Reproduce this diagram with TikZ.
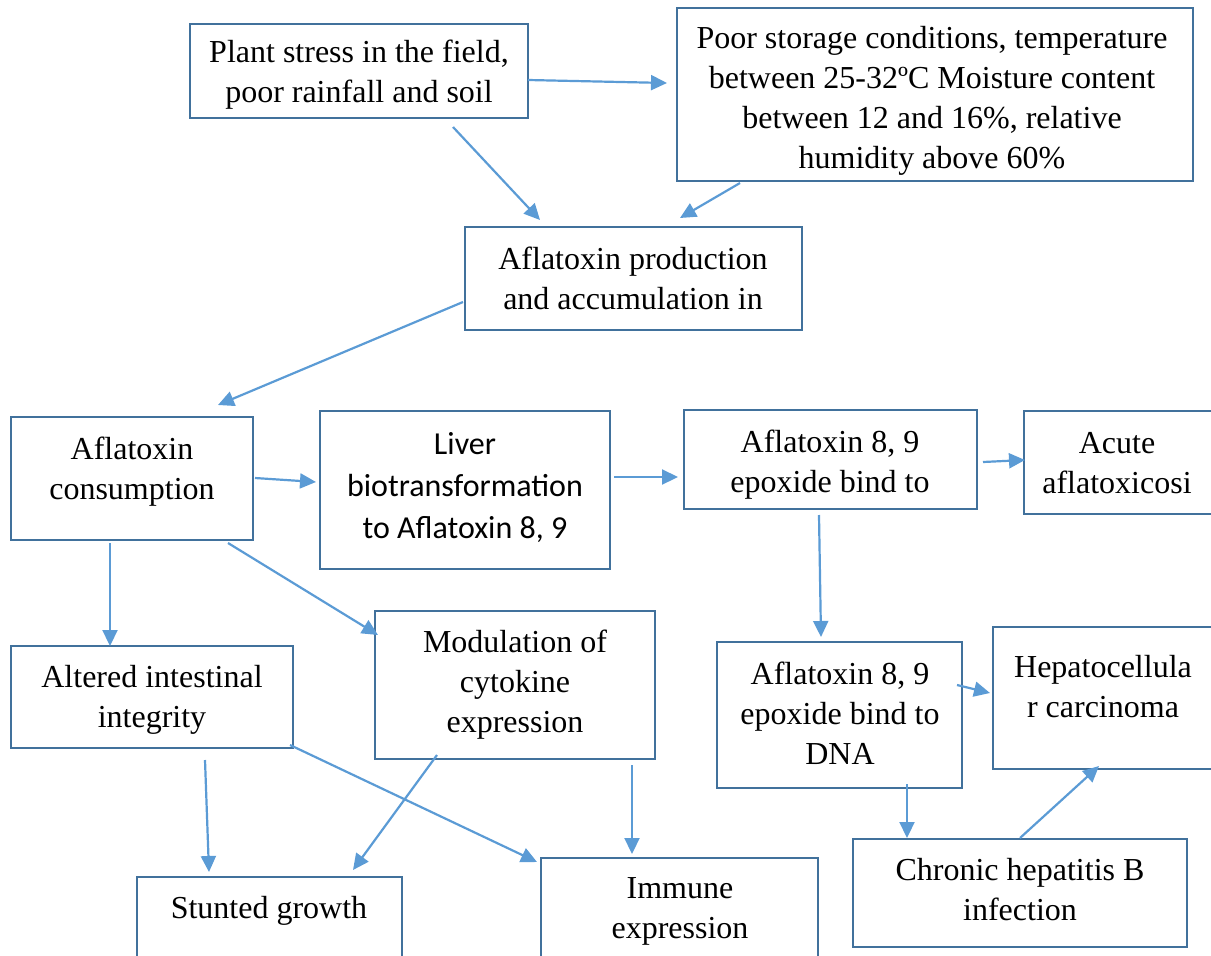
\documentclass[tikz,border=0pt]{standalone}
\usepackage{fontspec}
\setmainfont{Liberation Serif}
\newfontfamily\calibfont{Carlito}
\usetikzlibrary{arrows.meta}
\definecolor{boxline}{HTML}{41719C}
\definecolor{arrowline}{HTML}{5B9BD5}
\tikzset{
  box/.style={draw=boxline, line width=2.6pt, rectangle, inner sep=0pt},
  txt/.style={align=center, inner sep=0pt, font=\fontsize{32}{40}\selectfont},
  arr/.style={draw=arrowline, line width=2.2pt,
    -{Triangle[length=16pt,width=15pt]}, arrowline},
}
\begin{document}
\begin{tikzpicture}[x=1pt,y=-1pt]
\useasboundingbox (0,0) rectangle (1211,956);
\clip (0,0) rectangle (1211,956);
% boxes
\node[box, minimum width=338pt, minimum height=94pt]  (plant)   at (359,71) {};
\node[box, minimum width=516pt, minimum height=173pt] (store)   at (935,94.5) {};
\node[box, minimum width=337pt, minimum height=103pt] (prod)    at (633.5,278.5) {};
\node[box, minimum width=242pt, minimum height=123pt] (cons)    at (132,478.5) {};
\node[box, minimum width=290pt, minimum height=158pt] (liver)   at (465,490) {};
\node[box, minimum width=293pt, minimum height=99pt]  (epox)    at (830.5,459.5) {};
\node[box, minimum width=206pt, minimum height=103pt] (acute)   at (1127,462.5) {};
\node[box, minimum width=282pt, minimum height=102pt] (alter)   at (152,697) {};
\node[box, minimum width=280pt, minimum height=148pt] (modul)   at (515,685) {};
\node[box, minimum width=245pt, minimum height=146pt] (dna)     at (839.5,715) {};
\node[box, minimum width=237pt, minimum height=142pt] (hepato)  at (1111.5,698) {};
\node[box, minimum width=265pt, minimum height=103pt] (stunt)   at (269.5,928.5) {};
\node[box, minimum width=277pt, minimum height=122pt] (immune)  at (679.5,919) {};
\node[box, minimum width=334pt, minimum height=108pt] (chronic) at (1020,893) {};
% texts
\node[txt] (plantT)   at (359,75)   {Plant stress in the field,\\poor rainfall and soil};
\node[txt] (storeT)   at (932,101)  {Poor storage conditions, temperature\\between 25-32ºC Moisture content\\between 12 and 16\%, relative\\humidity above 60\%};
\node[txt] (prodT)    at (633,278)  {Aflatoxin production\\and accumulation in};
\node[txt] (consT)    at (132,472)  {Aflatoxin\\consumption};
\node[txt, font=\calibfont\fontsize{32}{42}\selectfont] (liverT) at (465,488) {Liver\\biotransformation\\to Aflatoxin 8, 9};
\node[txt] (epoxT)    at (830,465)  {Aflatoxin 8, 9\\epoxide bind to};
\node[txt] (acuteT)   at (1117,463) {Acute\\aflatoxicosi};
\node[txt] (alterT)   at (152,700)  {Altered intestinal\\integrity};
\node[txt] (modulT)   at (515,685)  {Modulation of\\cytokine\\expression};
\node[txt] (dnaT)     at (840,713)  {Aflatoxin 8, 9\\epoxide bind to\\DNA};
\node[txt] (hepatoT)  at (1103,687) {Hepatocellula\\r carcinoma};
\node[txt] (stuntT)   at (269,911)  {Stunted growth};
\node[txt] (immuneT)  at (680,911)  {Immune\\expression};
\node[txt] (chronicT) at (1020,890) {Chronic hepatitis B\\infection};
% connectors
\draw[arr] ([shift={(169,9)}]plant.center)      -- ([shift={(-268,-11.5)}]store.center);
\draw[arr] ([shift={(94,56)}]plant.center)      -- ([shift={(-93.5,-58.5)}]prod.center);
\draw[arr] ([shift={(-195,88.5)}]store.center)  -- ([shift={(46.5,-60.5)}]prod.center);
\draw[arr] ([shift={(-170.5,23.5)}]prod.center) -- ([shift={(86,-73.5)}]cons.center);
\draw[arr] ([shift={(123,-0.5)}]cons.center)    -- ([shift={(-149,-8)}]liver.center);
\draw[arr] ([shift={(149,-13)}]liver.center)    -- ([shift={(-152.5,17.5)}]epox.center);
\draw[arr] ([shift={(152.5,2.5)}]epox.center)   -- ([shift={(-102,-2.5)}]acute.center);
\draw[arr] ([shift={(-11.5,55.5)}]epox.center)  -- ([shift={(-18.5,-78)}]dna.center);
\draw[arr] ([shift={(-22,64.5)}]cons.center)    -- ([shift={(-42,-51)}]alter.center);
\draw[arr] ([shift={(96,64.5)}]cons.center)     -- ([shift={(-137,-50)}]modul.center);
\draw[arr] ([shift={(117.5,-30)}]dna.center)    -- ([shift={(-121.5,-5)}]hepato.center);
\draw[arr] ([shift={(67.5,69)}]dna.center)      -- ([shift={(-113,-55)}]chronic.center);
\draw[arr] ([shift={(0,-55)}]chronic.center)    -- ([shift={(-12.5,68)}]hepato.center);
\draw[arr] ([shift={(53,63)}]alter.center)      -- ([shift={(-60.5,-56.5)}]stunt.center);
\draw[arr] ([shift={(138,48)}]alter.center)     -- ([shift={(-142.5,-57)}]immune.center);
\draw[arr] ([shift={(-78,70)}]modul.center)     -- ([shift={(83.5,-58.5)}]stunt.center);
\draw[arr] ([shift={(117,80)}]modul.center)     -- ([shift={(-47.5,-65)}]immune.center);
\end{tikzpicture}
\end{document}
